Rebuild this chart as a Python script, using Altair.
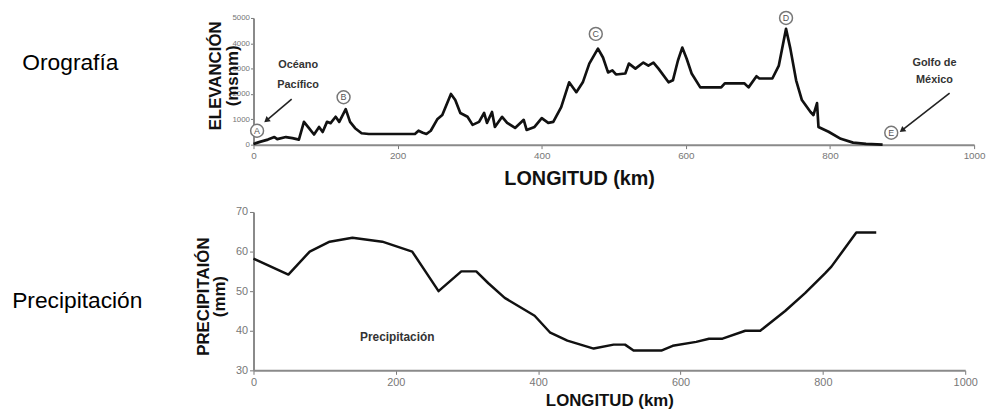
import altair as alt
import pandas as pd

FONT = "Liberation Sans"

# ---------------- Orografía (perfil de elevación) ----------------
elev_km = [0, 10, 20, 29, 33, 45, 54, 63, 70, 77, 84, 91, 96, 102, 107, 114, 119, 128,
           134, 141, 150, 160, 224, 229, 235, 240, 246, 255, 262, 274, 280, 287, 297, 304,
           313, 320, 324, 331, 335, 345, 352, 363, 375, 379, 390, 400, 409, 416, 427, 438,
           448, 457, 466, 478, 485, 492, 498, 503, 516, 521, 530, 541, 548, 555, 562, 576,
           582, 589, 595, 601, 608, 620, 649, 654, 681, 687, 698, 702, 720, 729, 739, 745,
           753, 761, 773, 777, 782, 784, 798, 815, 832, 850, 873]
elev_m = [30, 120, 200, 300, 220, 300, 260, 200, 900, 650, 400, 700, 500, 900, 850, 1100, 900, 1400,
          900, 650, 450, 420, 420, 550, 470, 420, 550, 1000, 1170, 2000, 1760, 1250, 1100, 780,
          900, 1250, 860, 1290, 700, 1100, 860, 660, 980, 580, 700, 1050, 860, 900, 1480, 2460,
          2070, 2460, 3200, 3790, 3440, 2850, 2930, 2770, 2810, 3200, 3000, 3240, 3120, 3240, 3000, 2460,
          2540, 3320, 3830, 3400, 2810, 2260, 2260, 2420, 2420, 2260, 2700, 2610, 2610, 3120, 4570, 3790,
          2540, 1760, 1290, 1170, 1640, 700, 510, 230, 80, 30, 0]

point_labels = ["A", "B", "C", "D", "E"]
point_km = [5, 125, 475, 739, 885]
point_m = [550, 1870, 4370, 5000, 470]

place_labels = ["Océano", "Pacífico", "Golfo de", "México"]
place_km = [62, 62, 945, 945]
place_m = [3140, 2340, 3240, 2540]

arrow_km = [53, 966]
arrow_m = [1800, 2030]
arrow_km2 = [19, 901]
arrow_m2 = [980, 590]
arrow_angle = [230, 232]

# ---------------- Precipitación ----------------
precip_km = [0, 49, 79, 107, 139, 181, 223, 260, 292, 313, 330, 353, 395, 417, 441, 478,
             506, 522, 534, 573, 589, 622, 640, 659, 691, 712, 747, 775, 803, 812, 847, 875]
precip_mm = [58.2, 54.2, 60, 62.5, 63.5, 62.5, 60, 50, 55, 55, 52, 48.3, 43.8, 39.5, 37.5, 35.5,
             36.5, 36.5, 35, 35, 36.2, 37.2, 38, 38, 40, 40, 45, 49.5, 54.5, 56.2, 64.8, 64.8]

km_ticks = [0, 200, 400, 600, 800, 1000]
elev_ticks = [0, 1000, 2000, 3000, 4000, 5000]
precip_ticks = [30, 40, 50, 60, 70]

# ---------------- data frames ----------------
elev_df = pd.DataFrame({"km": elev_km, "m": elev_m})
pts_df = pd.DataFrame({"km": point_km, "m": point_m, "lab": point_labels})
place_df = pd.DataFrame({"km": place_km, "m": place_m, "lab": place_labels})
arrow_df = pd.DataFrame({"km": arrow_km, "m": arrow_m, "km2": arrow_km2, "m2": arrow_m2})
head_df = pd.DataFrame({"km": arrow_km2, "m": arrow_m2, "ang": arrow_angle})
prec_df = pd.DataFrame({"km": precip_km, "mm": precip_mm})

axis_common = dict(grid=False, domainColor="#8a8a8a", domainWidth=2, tickColor="#777",
                   labelColor="#777", labelFont=FONT, titleFont=FONT, titleColor="#111",
                   titleFontWeight="bold", format="d", labelFlush=False)

x_top = alt.X("km:Q", scale=alt.Scale(domain=[0, 1000], nice=False),
              axis=alt.Axis(values=km_ticks, title="LONGITUD (km)", titleFontSize=20,
                            labelFontSize=10, tickSize=4, labelPadding=2,
                            titleX=329, titleY=34, titleBaseline="middle", titleAlign="center",
                            **axis_common))
y_top = alt.Y("m:Q", scale=alt.Scale(domain=[0, 5000], nice=False),
              axis=alt.Axis(values=elev_ticks, title=["ELEVANCIÓN", "(msnm)"], titleFontSize=17,
                            labelFontSize=8, tickSize=3, labelPadding=1,
                            titleAngle=270, titleX=-38, titleY=58, titleBaseline="middle",
                            titleAlign="center", titleLineHeight=17, **axis_common))

line_top = alt.Chart(elev_df).mark_line(color="#111", strokeWidth=2.7, strokeJoin="round").encode(
    x=x_top, y=y_top)
arrows = alt.Chart(arrow_df).mark_rule(color="#222", strokeWidth=1.6).encode(
    x=x_top, y=y_top, x2="km2:Q", y2="m2:Q")
heads = alt.Chart(head_df).mark_point(shape="triangle", filled=True, size=45, color="#222",
                                      opacity=1).encode(
    x=x_top, y=y_top, angle=alt.Angle("ang:Q", scale=None))
circles = alt.Chart(pts_df).mark_circle(size=170, color="white", stroke="#777", strokeWidth=1.5,
                                        opacity=1).encode(x=x_top, y=y_top)
letters = alt.Chart(pts_df).mark_text(fontSize=9, font=FONT, color="#555", baseline="middle",
                                      align="center").encode(x=x_top, y=y_top, text="lab:N")
places = alt.Chart(place_df).mark_text(fontSize=11, font=FONT, fontWeight="bold", color="#333",
                                       baseline="middle", align="center").encode(
    x=x_top, y=y_top, text="lab:N")
left_top = alt.Chart(pd.DataFrame({"t": ["Orografía"]})).mark_text(
    fontSize=23, font=FONT, color="black", align="center", baseline="middle").encode(
    x=alt.value(-185), y=alt.value(46), text="t:N")

top = alt.layer(line_top, arrows, heads, circles, letters, places, left_top).properties(
    width=728, height=128)

x_bot = alt.X("km:Q", scale=alt.Scale(domain=[0, 1000], nice=False),
              axis=alt.Axis(values=km_ticks, title="LONGITUD (km)", titleFontSize=17,
                            labelFontSize=11, tickSize=4, labelPadding=2, titlePadding=6,
                            **axis_common))
y_bot = alt.Y("mm:Q", scale=alt.Scale(domain=[30, 70], nice=False),
              axis=alt.Axis(values=precip_ticks, title=["PRECIPITAIÓN", "(mm)"], titleFontSize=17,
                            labelFontSize=11, tickSize=4, labelPadding=2,
                            titleAngle=270, titleX=-50, titleY=85, titleBaseline="middle",
                            titleAlign="center", titleLineHeight=16, **axis_common))

line_bot = alt.Chart(prec_df).mark_line(color="#111", strokeWidth=2.5, strokeJoin="round").encode(
    x=x_bot, y=y_bot)
bot_note = alt.Chart(pd.DataFrame({"km": [202], "mm": [38.3], "t": ["Precipitación"]})).mark_text(
    fontSize=12, font=FONT, fontWeight="bold", color="#333", align="center",
    baseline="middle").encode(x=x_bot, y=y_bot, text="t:N")
left_bot = alt.Chart(pd.DataFrame({"t": ["Precipitación"]})).mark_text(
    fontSize=23, font=FONT, color="black", align="center", baseline="middle").encode(
    x=alt.value(-178), y=alt.value(90), text="t:N")

bottom = alt.layer(line_bot, bot_note, left_bot).properties(width=719, height=160)

chart = alt.vconcat(top, bottom, spacing=18).properties(
    padding={"left": 4, "top": -2, "right": 0, "bottom": 0}
).configure_view(stroke=None)

chart.save("out.html", embed_options={"renderer": "svg", "actions": False})
